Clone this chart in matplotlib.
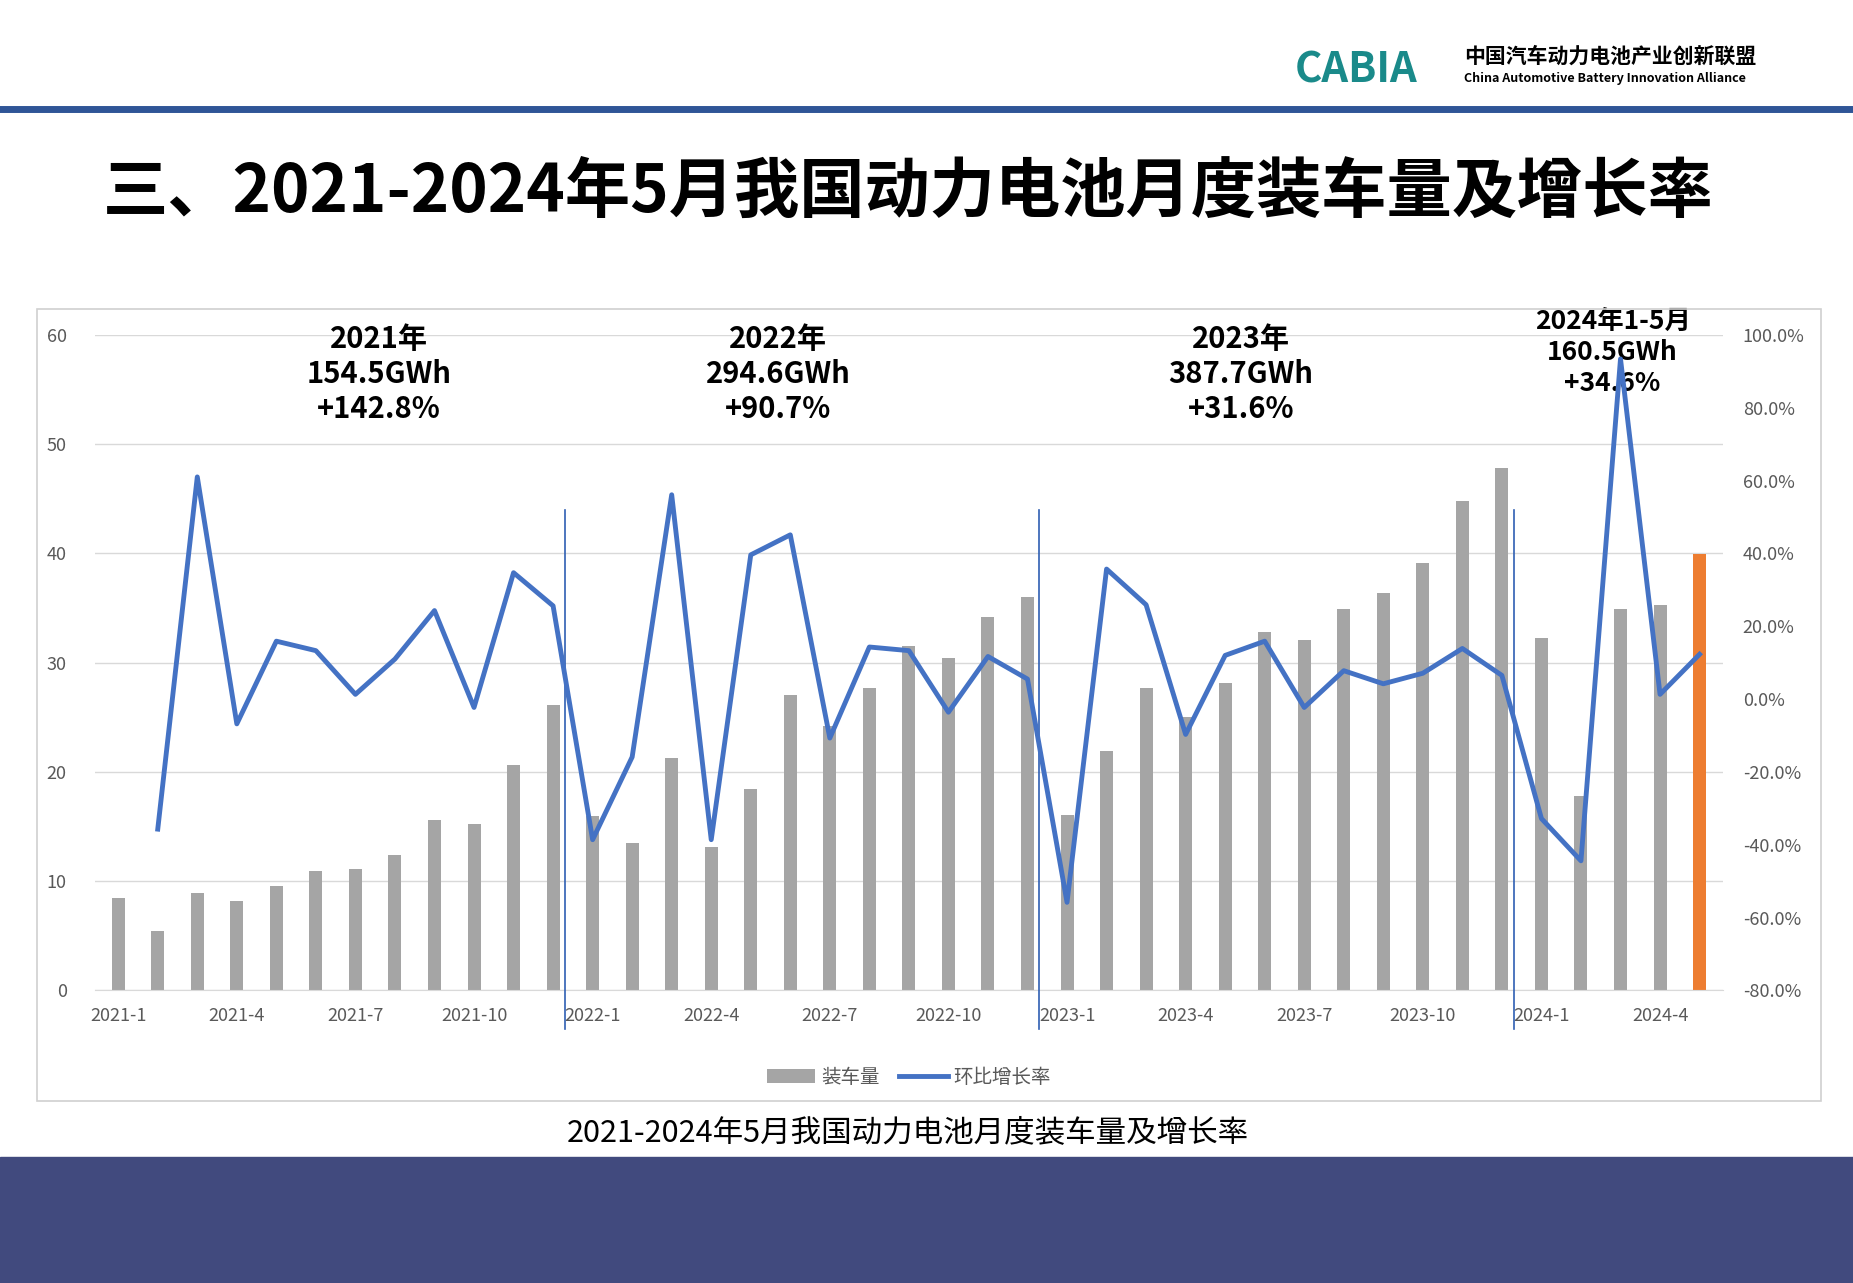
import matplotlib.pyplot as plt
import numpy as np
from matplotlib.patches import Rectangle
from matplotlib import font_manager

# ищем установленный CJK шрифт
names = sorted({f.name for f in font_manager.fontManager.ttflist if 'CJK' in f.name})
cjk = [n for n in ['Noto Sans CJK SC', 'Noto Sans CJK JP', 'Noto Sans CJK TC', 'Noto Sans CJK KR'] if n in names] + names
plt.rcParams['font.family'] = cjk[:1] + ['DejaVu Sans'] if cjk else ['DejaVu Sans']

# данные
months = [f"{y}-{m}" for y in range(2021, 2025) for m in range(1, 13)][:41]
volume = [8.5, 5.4, 8.9, 8.2, 9.6, 10.9, 11.1, 12.4, 15.6, 15.2, 20.6, 26.1,
          16.0, 13.5, 21.3, 13.1, 18.4, 27.0, 24.2, 27.7, 31.5, 30.4, 34.2, 36.0,
          16.1, 21.9, 27.7, 25.0, 28.1, 32.8, 32.1, 34.9, 36.4, 39.1, 44.8, 47.8,
          32.3, 17.8, 34.9, 35.3, 39.9]
mom = [None, -35.7, 61.0, -6.8, 15.9, 13.3, 1.3, 11.0, 24.3, -2.3, 34.7, 25.6,
       -38.6, -15.9, 56.1, -38.6, 39.6, 45.1, -10.7, 14.3, 13.3, -3.6, 11.7, 5.5,
       -55.8, 35.7, 25.9, -9.7, 12.0, 15.9, -2.3, 7.8, 4.2, 7.1, 13.9, 6.5,
       -32.8, -44.4, 93.4, 1.3, 12.3]
year_notes = ["2021年\n154.5GWh\n+142.8%", "2022年\n294.6GWh\n+90.7%",
              "2023年\n387.7GWh\n+31.6%", "2024年1-5月\n160.5GWh\n+34.6%"]

fig = plt.figure(figsize=(18.53, 12.83), dpi=100)

# шапка
fig.add_artist(plt.Line2D([0, 1], [0.915, 0.915], color='#2f5597', lw=5))
fig.text(0.765, 0.945, "CABIA", fontsize=30, fontweight='bold', color='#1a8a8a', ha='right', va='center')
fig.text(0.79, 0.956, "中国汽车动力电池产业创新联盟", fontsize=15, fontweight='bold', ha='left', va='center')
fig.text(0.79, 0.939, "China Automotive Battery Innovation Alliance", fontsize=9, fontweight='bold', ha='left', va='center')
fig.text(0.49, 0.85, "三、2021-2024年5月我国动力电池月度装车量及增长率", fontsize=47, fontweight='bold', ha='center', va='center')

# рамка и низ
fig.add_artist(Rectangle((0.02, 0.142), 0.963, 0.617, transform=fig.transFigure, fill=False, ec='#d0d0d0', lw=1.2))
fig.add_artist(Rectangle((0, 0), 1, 0.098, transform=fig.transFigure, color='#414a7e'))
fig.text(0.49, 0.117, "2021-2024年5月我国动力电池月度装车量及增长率", fontsize=22, ha='center', va='center')

ax = fig.add_axes([0.051, 0.228, 0.879, 0.511])
ax2 = ax.twinx()
x = np.arange(len(months))
colors = ['#a5a5a5'] * (len(x) - 1) + ['#ed7d31']
ax.bar(x, volume, width=0.33, color=colors, label='装车量', zorder=2)
ax.set_ylim(0, 60)
ax.set_xlim(-0.6, len(x) - 0.4)
ax.set_yticks(range(0, 61, 10))
ax.grid(axis='y', color='#d9d9d9', lw=1)
ax.set_axisbelow(True)
ax.set_xticks(x[::3])
ax.set_xticklabels(months[::3])
ax.tick_params(length=0, labelsize=13, colors='#595959', pad=12)
ax.tick_params(axis='y', pad=20)

ys = np.array([np.nan if v is None else v for v in mom])
ax2.plot(x, ys, color='#4472c4', lw=3.5, label='环比增长率', zorder=3)
ax2.set_ylim(-80, 100)
ax2.set_yticks(range(-80, 101, 20))
ax2.set_yticklabels([f"{v:.1f}%" for v in range(-80, 101, 20)])
ax2.tick_params(length=0, labelsize=13, colors='#595959', pad=14)
for a in (ax, ax2):
    for s in a.spines.values():
        s.set_visible(False)
ax.spines['bottom'].set_visible(True)
ax.spines['bottom'].set_color('#d9d9d9')

for xv in (11.3, 23.3, 35.3):
    ax.plot([xv, xv], [-3.5, 44], color='#2f5fb3', lw=1.2, clip_on=False, zorder=4)

note_x = [6.6, 16.7, 28.4]
for xv, t in zip(note_x, year_notes[:3]):
    ax.text(xv, 61.0, t, fontsize=21, fontweight='bold', ha='center', va='top', linespacing=1.2)
ax.text(37.8, 62.5, year_notes[3], fontsize=19, fontweight='bold', ha='center', va='top', linespacing=1.2)

h1, l1 = ax.get_legend_handles_labels()
h2, l2 = ax2.get_legend_handles_labels()
ax.legend(h1 + h2, l1 + l2, loc='upper center', bbox_to_anchor=(0.5, -0.09), ncol=2, frameon=False,
          fontsize=14, labelcolor='#595959', handlelength=2.5, columnspacing=1.0, handletextpad=0.3)

fig.savefig("out.png")
